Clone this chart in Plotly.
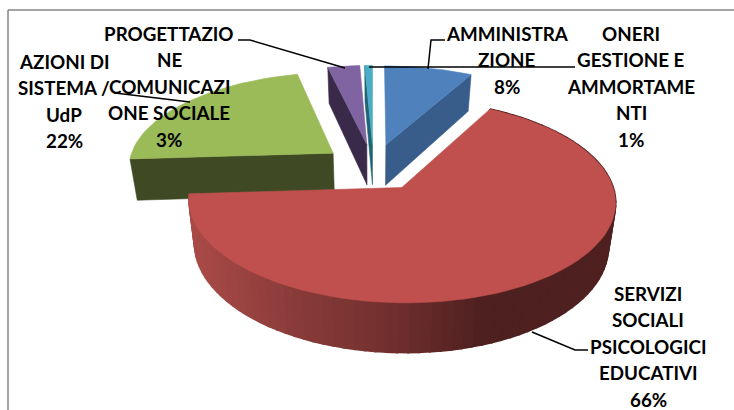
import math
import plotly.graph_objects as go

# Data (printed labels are the rounded percentages)
label_lines = [
    ["AMMINISTRA", "ZIONE"],
    ["SERVIZI", "SOCIALI", "PSICOLOGICI", "EDUCATIVI"],
    ["AZIONI DI", "SISTEMA /", "UdP"],
    ["PROGETTAZIO", "NE", "COMUNICAZI", "ONE SOCIALE"],
    ["ONERI", "GESTIONE E", "AMMORTAME", "NTI"],
]
values = [8.0, 66.0, 22.4, 2.9, 0.7]
top_colors = ["#4f81bd", "#c0504d", "#9bbb59", "#8064a2", "#4bacc6"]
cut_colors = ["#385d8a", "#4f2020", "#3f4a25", "#3a2a4a", "#1f6374"]

# Styling / projection of the 3D pie
CX, CY = 373.5, 167.0
RX, RY = 205.5, 94.5
PERSP = 0.13
EXPLODE = 0.25
DEPTH = 41.8
BOTTOM_SCALE = 0.97
label_pos = [(507, 33), (648, 293), (64, 61), (169, 33), (631, 33)]
LINE_PITCH = 26.6
FONT = "Lato"
FONT_SIZE = 18.8
side_stops = [(195, (168, 74, 71)), (290, (138, 60, 58)), (400, (110, 46, 45)),
              (480, (79, 32, 32)), (620, (79, 32, 32))]


def project(u, w, bottom=False):
    f = 1.0 / (1.0 - PERSP * w)
    x = RX * u * f
    y = RY * w * f
    if bottom:
        x *= BOTTOM_SCALE
        y += DEPTH * f
    return CX + x, CY + y


def slice_geometry():
    start = 0.0
    total = sum(values)
    out = []
    for v in values:
        a0 = start / total * 2 * math.pi
        a1 = (start + v) / total * 2 * math.pi
        mid = (a0 + a1) / 2
        out.append((a0, a1, EXPLODE * math.sin(mid), -EXPLODE * math.cos(mid)))
        start += v
    return out


def rim(a0, a1, ou, ow, n, bottom=False):
    pts = []
    for i in range(n + 1):
        a = a0 + (a1 - a0) * i / n
        pts.append(project(ou + math.sin(a), ow - math.cos(a), bottom))
    return pts


def poly(fig, pts, color, lw=0.6):
    xs = [p[0] for p in pts] + [pts[0][0]]
    ys = [p[1] for p in pts] + [pts[0][1]]
    fig.add_trace(go.Scatter(x=xs, y=ys, mode="lines", fill="toself", fillcolor=color,
                             line=dict(color=color, width=lw), hoverinfo="skip",
                             showlegend=False))


def side_color(x):
    for (x0, c0), (x1, c1) in zip(side_stops, side_stops[1:]):
        if x <= x1:
            t = max(0.0, (x - x0) / (x1 - x0))
            return "rgb(%d,%d,%d)" % tuple(round(a + (b - a) * t) for a, b in zip(c0, c1))
    return "rgb(%d,%d,%d)" % side_stops[-1][1]


def cut_face(fig, angle, ou, ow, color):
    edge = (ou + math.sin(angle), ow - math.cos(angle))
    poly(fig, [project(ou, ow), project(*edge), project(*edge, True), project(ou, ow, True)], color)


fig = go.Figure()
geo = slice_geometry()

# back slices first: teal, purple, blue, green; red sits in front
for idx, cut_end in [(4, False), (3, False), (0, True), (2, False)]:
    a0, a1, ou, ow = geo[idx]
    cut_face(fig, a1 if cut_end else a0, ou, ow, cut_colors[idx])
    poly(fig, [project(ou, ow)] + rim(a0, a1, ou, ow, 40), top_colors[idx])

# red outer wall as gradient strips
a0, a1, ou, ow = geo[1]
n = 90
top_rim = rim(a0, a1, ou, ow, n)
bot_rim = rim(a0, a1, ou, ow, n, True)
for i in range(n):
    quad = [top_rim[i], top_rim[i + 1], bot_rim[i + 1], bot_rim[i]]
    poly(fig, quad, side_color((quad[0][0] + quad[1][0]) / 2), lw=2)
poly(fig, [project(ou, ow)] + top_rim, top_colors[1])

# leader lines
leaders = [
    [(238, 40), (250, 40), (345, 68)],
    [(115, 93), (190, 102)],
    [(445, 40), (431, 40), (428, 69)],
    [(575, 67), (369, 67)],
    [(532, 332), (575, 350), (588, 350)],
]
for pts in leaders:
    fig.add_trace(go.Scatter(x=[p[0] for p in pts], y=[p[1] for p in pts], mode="lines",
                             line=dict(color="black", width=1.5), hoverinfo="skip",
                             showlegend=False))

# labels: one annotation per line so the line pitch matches
annotations = []
for lines, v, (lx, ly) in zip(label_lines, values, label_pos):
    for i, t in enumerate(lines + [f"{round(v)}%"]):
        annotations.append(dict(x=lx, y=ly + i * LINE_PITCH, text=f"<b>{t}</b>", showarrow=False,
                                xanchor="center", yanchor="middle",
                                font=dict(family=FONT, size=FONT_SIZE, color="black")))

frame = [dict(type="line", x0=8, y0=10, x1=734, y1=10, line=dict(color="#868686", width=1.5)),
         dict(type="line", x0=8, y0=10, x1=8, y1=410, line=dict(color="#868686", width=1.5))]

fig.update_layout(
    width=734, height=410, autosize=False, margin=dict(l=0, r=0, t=0, b=0),
    paper_bgcolor="white", plot_bgcolor="white", showlegend=False,
    xaxis=dict(range=[0, 734], visible=False, fixedrange=True),
    yaxis=dict(range=[410, 0], visible=False, fixedrange=True),
    annotations=annotations, shapes=frame,
)
fig.write_html("out.html", config={"displayModeBar": False},
               post_script="document.body.style.margin='0';document.documentElement.style.overflow='hidden';")
